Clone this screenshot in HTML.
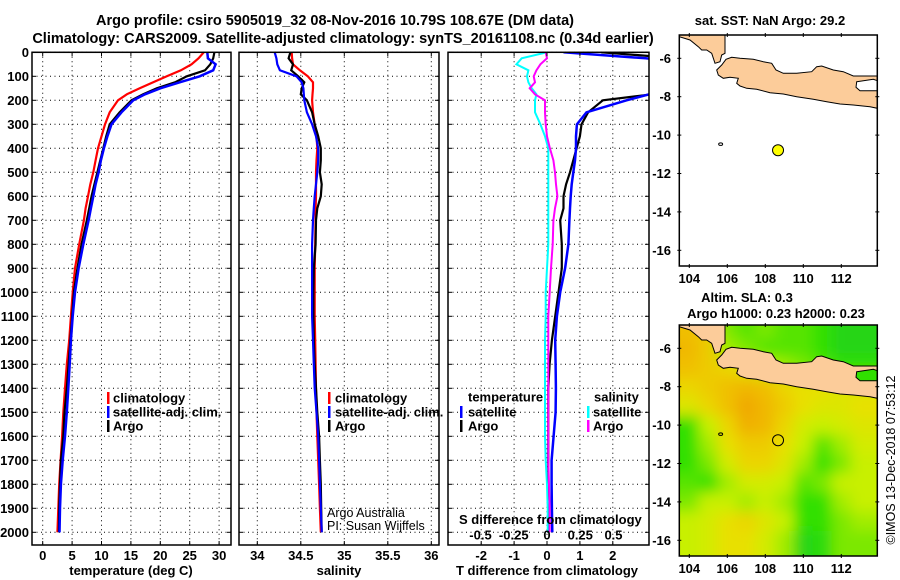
<!DOCTYPE html>
<html><head><meta charset="utf-8"><style>
html,body{margin:0;padding:0;background:#fff;}
svg{display:block;font-family:"Liberation Sans",Arial,sans-serif;}
.t{font-weight:bold;font-size:13px;fill:#000;}
.h{font-weight:bold;font-size:14.5px;fill:#000;}
.n{font-size:12.5px;fill:#000;}
</style></head><body>
<svg id="fig" width="900" height="580" viewBox="0 0 900 580">
<defs>
<clipPath id="c1"><rect x="32" y="52.3" width="199" height="492.7"/></clipPath>
<clipPath id="c2"><rect x="239" y="52.3" width="200" height="492.7"/></clipPath>
<clipPath id="c3"><rect x="448" y="52.3" width="201" height="492.7"/></clipPath>
<clipPath id="cm1"><rect x="679.3" y="35" width="198" height="231"/></clipPath>
<clipPath id="cm2"><rect x="679.3" y="325" width="198" height="231"/></clipPath>
<filter id="blur" x="-10%" y="-10%" width="120%" height="120%"><feGaussianBlur stdDeviation="7"/></filter>
</defs>
<text class="h" x="335" y="25" text-anchor="middle">Argo profile: csiro 5905019_32 08-Nov-2016 10.79S 108.67E (DM data)</text>
<text class="h" x="343" y="43" text-anchor="middle">Climatology: CARS2009. Satellite-adjusted climatology: synTS_20161108.nc (0.34d earlier)</text>
<g id="grid"></g>
<g id="series"></g>
<g id="maps"></g>
<rect x="32" y="52.3" width="199" height="492.7" fill="none" stroke="#000" stroke-width="1.5"/>
<rect x="239" y="52.3" width="200" height="492.7" fill="none" stroke="#000" stroke-width="1.5"/>
<rect x="448" y="52.3" width="201" height="492.7" fill="none" stroke="#000" stroke-width="1.5"/>
<g id="ticks"></g>
<text class="t" x="131" y="575" text-anchor="middle">temperature (deg C)</text>
<text class="t" x="339" y="575" text-anchor="middle">salinity</text>
<text class="t" x="547" y="575" text-anchor="middle">T difference from climatology</text>
<text class="t" x="459" y="524">S difference from climatology</text>
<g>
<rect x="107" y="392" width="2.5" height="12" fill="#f00"/><text class="t" x="113" y="402.5">climatology</text>
<rect x="107" y="406" width="2.5" height="12" fill="#00f"/><text class="t" x="113" y="416.5">satellite-adj. clim.</text>
<rect x="107" y="420" width="2.5" height="12" fill="#000"/><text class="t" x="113" y="430.5">Argo</text>
</g>
<g>
<rect x="328" y="392" width="2.5" height="12" fill="#f00"/><text class="t" x="335" y="402.5">climatology</text>
<rect x="328" y="406" width="2.5" height="12" fill="#00f"/><text class="t" x="335" y="416.5">satellite-adj. clim.</text>
<rect x="328" y="420" width="2.5" height="12" fill="#000"/><text class="t" x="335" y="430.5">Argo</text>
</g>
<text class="n" x="327" y="517">Argo Australia</text>
<text class="n" x="327" y="530">PI: Susan Wijffels</text>
<g>
<text class="t" x="468" y="401.5">temperature</text>
<rect x="460" y="406" width="2.5" height="12" fill="#00f"/><text class="t" x="468" y="416.5">satellite</text>
<rect x="460" y="420" width="2.5" height="12" fill="#000"/><text class="t" x="468" y="430.5">Argo</text>
<text class="t" x="594" y="401.5">salinity</text>
<rect x="587" y="406" width="2.5" height="12" fill="#0ff"/><text class="t" x="593" y="416.5">satellite</text>
<rect x="587" y="420" width="2.5" height="12" fill="#f0f"/><text class="t" x="593" y="430.5">Argo</text>
</g>
<text class="t" x="770" y="25" text-anchor="middle">sat. SST: NaN Argo: 29.2</text>
<text class="t" x="747" y="302" text-anchor="middle">Altim. SLA: 0.3</text>
<text class="t" x="776" y="318" text-anchor="middle">Argo h1000: 0.23 h2000: 0.23</text>
<text class="n" transform="translate(895,460) rotate(-90)" text-anchor="middle" font-size="13">©IMOS 13-Dec-2018 07:53:12</text>
</svg>
<script>
// ---- data ----
const depths = [0,25,50,75,100,125,150,175,200,250,300,350,400,450,500,550,600,650,700,800,900,1000,1100,1200,1300,1400,1500,1600,1700,1800,1900,2000];
const tempClim = [27.4,26.5,25.3,23.5,21.1,18.8,16.5,14.3,12.8,11.4,10.6,10.0,9.4,9.0,8.6,8.1,7.7,7.3,7.0,6.2,5.5,5.1,4.8,4.5,4.1,3.8,3.5,3.3,3.05,2.8,2.65,2.5];
const tempArgo = [29.2,29.0,28.5,27.6,24.5,22.5,19.4,17.1,15.1,13.1,11.4,10.8,10.3,9.8,9.3,8.8,8.3,7.9,7.5,6.6,5.9,5.3,5.0,4.7,4.4,4.1,3.7,3.5,3.1,2.95,2.8,2.75];
const tempSat = [28.0,28.1,29.4,29.0,26.7,23.3,20.0,17.4,15.4,13.4,11.7,11.0,10.4,9.9,9.5,9.0,8.6,8.2,7.8,6.9,6.1,5.5,5.1,4.8,4.6,4.35,4.1,3.8,3.4,3.1,2.95,2.85];
const salClim = [34.395,34.40,34.41,34.49,34.58,34.64,34.64,34.635,34.63,34.64,34.66,34.68,34.69,34.68,34.675,34.675,34.675,34.67,34.67,34.665,34.66,34.66,34.66,34.665,34.67,34.675,34.68,34.69,34.70,34.71,34.72,34.73];
const salArgo = [34.38,34.36,34.41,34.39,34.47,34.54,34.51,34.50,34.57,34.63,34.66,34.70,34.73,34.73,34.72,34.74,34.73,34.69,34.675,34.67,34.65,34.645,34.645,34.65,34.66,34.675,34.69,34.71,34.72,34.73,34.735,34.74];
const salSat = [34.20,34.22,34.23,34.26,34.45,34.51,34.53,34.535,34.54,34.57,34.63,34.675,34.70,34.70,34.69,34.675,34.66,34.65,34.64,34.63,34.63,34.63,34.63,34.64,34.65,34.66,34.68,34.70,34.71,34.72,34.73,34.74];
const dTSat = [0.5,3.0,5,5,5.6,5,3.5,3.1,2.42,1.2,0.91,0.88,0.88,0.85,0.8,0.75,0.72,0.7,0.68,0.65,0.55,0.4,0.3,0.25,0.26,0.27,0.26,0.2,0.14,0.14,0.15,0.16];
const dTArgo = [1.65,4,4,4,4,4,4,3.2,1.7,1.25,1.05,1.0,0.9,0.8,0.7,0.58,0.5,0.5,0.4,0.45,0.45,0.35,0.25,0.15,0.08,0.04,0.04,0.04,0.04,0.04,0.04,0.04];
const dSSat = [0,-0.19,-0.23,-0.14,-0.15,-0.14,-0.115,-0.08,-0.09,-0.09,-0.05,-0.015,0.01,0.01,0.01,0.01,0.01,0.01,0.01,0.01,0.0,-0.01,-0.01,-0.015,-0.015,-0.015,-0.015,-0.015,-0.01,0,0.005,0.005];
const dSArgo = [-0.01,0,-0.05,-0.08,-0.1,-0.09,-0.13,-0.09,-0.015,-0.015,-0.01,0,0.022,0.048,0.06,0.068,0.078,0.06,0.048,0.043,0.03,0.02,0.01,0.01,0.01,0.01,0.01,0.01,0.01,0.015,0.02,0.02];
const depthTicks = [0,100,200,300,400,500,600,700,800,900,1000,1100,1200,1300,1400,1500,1600,1700,1800,1900,2000];
const tempTicks = [0,5,10,15,20,25,30];
const salTicks = [34,34.5,35,35.5,36];
const salTickLabels = ['34','34.5','35','35.5','36'];
const dTTicks = [-2,-1,0,1,2];
const dSTicks = [-0.5,-0.25,0,0.25,0.5];
const dSTickLabels = ['-0.5','-0.25','0','0.25','0.5'];
const mapLatTicks = [-6,-8,-10,-12,-14,-16];
const mapLonTicks = [104,106,108,110,112];
const floatLon = [108.67];
const floatLat = [-10.79];
const slaLons = [104,105,106,107,108,109,110,111,112,113];
const slaLats = [-5,-6,-7,-8,-9,-10,-11,-12,-13,-14,-15,-16];
const slaRow0 = [0.8,0.75,0.4,0.35,0.4,0.35,0.35,0.3,0.2,0.2];
const slaRow1 = [0.85,0.75,0.45,0.4,0.35,0.35,0.35,0.3,0.2,0.2];
const slaRow2 = [0.8,0.75,0.7,0.6,0.5,0.45,0.4,0.35,0.3,0.3];
const slaRow3 = [0.7,0.75,0.8,0.85,0.8,0.7,0.65,0.65,0.6,0.6];
const slaRow4 = [0.6,0.7,0.8,0.95,0.85,0.75,0.65,0.6,0.6,0.65];
const slaRow5 = [0.3,0.5,0.7,0.9,0.85,0.7,0.55,0.5,0.55,0.6];
const slaRow6 = [0.3,0.45,0.65,0.75,0.75,0.65,0.5,0.35,0.45,0.55];
const slaRow7 = [0.3,0.4,0.55,0.7,0.7,0.6,0.45,0.3,0.4,0.5];
const slaRow8 = [0.35,0.3,0.45,0.55,0.55,0.5,0.35,0.4,0.5,0.5];
const slaRow9 = [0.4,0.5,0.5,0.45,0.5,0.45,0.3,0.3,0.45,0.5];
const slaRow10 = [0.5,0.55,0.65,0.7,0.6,0.5,0.3,0.3,0.4,0.45];
const slaRow11 = [0.5,0.55,0.65,0.65,0.55,0.45,0.2,0.25,0.4,0.4];
const slaGrid = [slaRow0,slaRow1,slaRow2,slaRow3,slaRow4,slaRow5,slaRow6,slaRow7,slaRow8,slaRow9,slaRow10,slaRow11];

// ---- axis functions ----
const yD = d => 52.3 + 0.24*d;
const xT = t => 42.7 + 5.88*t;
const xS = s => 257.3 + 87*(s-34);
const xDT = v => 547 + 32.9*v;
const xDS = v => 547 + 133*v;
const mapX = lon => 689.3 + (lon-104)*19;
const mapY1 = lat => 58.3 + (-6-lat)*19.2;
const mapY2 = lat => 348.3 + (-6-lat)*19.2;

const NS = 'http://www.w3.org/2000/svg';
function mk(tag, attrs, parent){
  const e = document.createElementNS(NS, tag);
  for (const k in attrs) e.setAttribute(k, attrs[k]);
  parent.appendChild(e);
  return e;
}
const grid = document.getElementById('grid');
const series = document.getElementById('series');
const ticks = document.getElementById('ticks');
const maps = document.getElementById('maps');

// gridlines
const panels = [[32,231,tempTicks.map(xT)],[239,439,salTicks.map(xS)],[448,649,dTTicks.map(xDT)]];
panels.forEach(p => {
  depthTicks.forEach(d => {
    const g = mk('line',{x1:p[0],x2:p[1],y1:yD(d),y2:yD(d),stroke:'#000','stroke-width':1,'stroke-dasharray':'1,3.5'},grid);
    
    
    const tl = mk('line',{x1:p[0],x2:p[0]+4,y1:yD(d),y2:yD(d),stroke:'#000','stroke-width':1},ticks);
    
    
    const tr = mk('line',{x1:p[1]-4,x2:p[1],y1:yD(d),y2:yD(d),stroke:'#000','stroke-width':1},ticks);
    
    
  });
  p[2].forEach(x => {
    const g = mk('line',{x1:x,x2:x,y1:52.3,y2:545,stroke:'#000','stroke-width':1,'stroke-dasharray':'1,3.5'},grid);
    
    
    const tb = mk('line',{x1:x,x2:x,y1:541,y2:545,stroke:'#000','stroke-width':1},ticks);
    
    
    const tt = mk('line',{x1:x,x2:x,y1:52.3,y2:56.3,stroke:'#000','stroke-width':1},ticks);
    
    
  });
});
depthTicks.forEach(d => {
  const t = mk('text',{x:29,y:yD(d)+4.5,'text-anchor':'end','class':'t'},ticks);
  t.textContent = d;
  
  
});
tempTicks.forEach(v => {
  const t = mk('text',{x:xT(v),y:560,'text-anchor':'middle','class':'t'},ticks);
  t.textContent = v;
  
  
});
salTicks.forEach((v,i) => {
  const t = mk('text',{x:xS(v),y:560,'text-anchor':'middle','class':'t'},ticks);
  t.textContent = salTickLabels[i];
  
  
});
dTTicks.forEach(v => {
  const t = mk('text',{x:xDT(v),y:560,'text-anchor':'middle','class':'t'},ticks);
  t.textContent = v;
  
  
});
dSTicks.forEach((v,i) => {
  const t = mk('text',{x:xDS(v),y:539.5,'text-anchor':'middle','class':'t'},ticks);
  t.textContent = dSTickLabels[i];
  
  
});

// series
function line(vals, fx, color, w, clip, name){
  const pts = vals.map((v,i) => fx(v).toFixed(1)+','+yD(depths[i]).toFixed(1)).join(' ');
  const pl = mk('polyline',{points:pts,fill:'none',stroke:color,'stroke-width':w,'clip-path':'url(#'+clip+')','stroke-linejoin':'miter'},series);
  
  
}
line(tempClim, xT, '#f00', 2.2, 'c1', 'temperature-climatology-line');
line(tempArgo, xT, '#000', 2.2, 'c1', 'temperature-argo-line');
line(tempSat, xT, '#00f', 2.5, 'c1', 'temperature-satellite-line');
line(salClim, xS, '#f00', 2.2, 'c2', 'salinity-climatology-line');
line(salArgo, xS, '#000', 2.2, 'c2', 'salinity-argo-line');
line(salSat, xS, '#00f', 2.2, 'c2', 'salinity-satellite-line');
line(dTArgo, xDT, '#000', 2.2, 'c3', 't-difference-argo-line');
line(dTSat, xDT, '#00f', 2.5, 'c3', 't-difference-satellite-line');
line(dSSat, xDS, '#0ff', 2, 'c3', 's-difference-satellite-line');
line(dSArgo, xDS, '#f0f', 2, 'c3', 's-difference-argo-line');

// maps
const stops = [[0,[24,192,64]],[0.3,[48,224,0]],[0.5,[200,240,0]],[0.65,[232,224,0]],[0.8,[240,192,0]],[1,[240,160,0]]];
function col(v){
  for (let i=1;i<stops.length;i++){
    if (v<=stops[i][0]){
      const a=stops[i-1], b=stops[i], f=(v-a[0])/(b[0]-a[0]);
      return 'rgb('+a[1].map((c,k)=>Math.round(c+(b[1][k]-c)*f)).join(',')+')';
    }
  }
  return 'rgb(240,160,0)';
}
const heat = mk('g',{'clip-path':'url(#cm2)'},maps);


const heatInner = mk('g',{filter:'url(#blur)'},heat);


slaLats.forEach((lat,r) => {
  slaLons.forEach((lon,c) => {
    const x0 = mapX(lon-0.5), y0 = mapY2(lat+0.5);
    const w = 19, h = 19.2;
    const cell = mk('rect',{x:c===0?x0-30:x0,y:r===0?y0-30:y0,width:w+(c===0||c===slaLons.length-1?30:0)+0.5,height:h+(r===0||r===slaLats.length-1?40:0)+0.5,fill:col(slaGrid[r][c])},heatInner);
    
    
  });
});
// land polygons in zoom units (x=640+zx/3, y=off+zy/3)
const sumatra = [[118,105],[255,105],[255,160],[245,165],[240,185],[225,190],[215,160],[200,150],[185,150],[175,140],[150,120],[118,110]];
const java = [[230,210],[245,195],[258,178],[275,172],[300,175],[340,178],[370,185],[395,190],[408,210],[430,220],[470,220],[515,215],[530,200],[545,198],[580,210],[610,215],[640,228],[712,228],[712,325],[690,320],[640,315],[600,312],[560,305],[520,298],[470,290],[430,282],[390,278],[350,268],[320,265],[300,258],[290,250],[295,235],[270,232],[250,235],[235,225]];
const strait = [[650,245],[700,238],[712,242],[712,272],[660,272],[648,262]];
function drawMap(yoff, clip, name, seaColor){
  const pts = a => a.map(p => (640+p[0]/3).toFixed(1)+','+(yoff+p[1]/3).toFixed(1)).join(' ');
  const g = mk('g',{'clip-path':'url(#'+clip+')'},maps);
  
  
  [sumatra, java].forEach(a => {
    const p = mk('polygon',{points:pts(a),fill:'#fccc9a',stroke:'#000','stroke-width':1},g);
    
    
  });
  const s = mk('polygon',{points:pts(strait),fill:seaColor,stroke:'#000','stroke-width':1},g);
  
  
  const isl = mk('ellipse',{cx:mapX(105.65),cy:yoff===0?mapY1(-10.47):mapY2(-10.47),rx:2,ry:1.3,fill:'none',stroke:'#000','stroke-width':1},g);
  
  
}
drawMap(0,'cm1','sst-map-land','#fff');
drawMap(290,'cm2','sla-map-land','#30e000');
[[35,mapY1,'sst-map'],[325,mapY2,'sla-map']].forEach(m => {
  const fr = mk('rect',{x:679.3,y:m[0],width:198,height:231,fill:'none',stroke:'#000','stroke-width':1.5},maps);
  
  
  mapLatTicks.forEach(lat => {
    const y = m[1](lat);
    const t = mk('text',{x:671,y:y+4.5,'text-anchor':'end','class':'t'},maps);
    t.textContent = lat;
    
    
    const tk = mk('line',{x1:677.3,x2:681.3,y1:y,y2:y,stroke:'#000'},maps);
    
    
    const tk2 = mk('line',{x1:875.3,x2:879.3,y1:y,y2:y,stroke:'#000'},maps);
    
    
  });
  mapLonTicks.forEach(lon => {
    const x = mapX(lon);
    const t = mk('text',{x:x,y:m[0]+231+17,'text-anchor':'middle','class':'t'},maps);
    t.textContent = lon;
    
    
    const tk = mk('line',{x1:x,x2:x,y1:m[0]-2,y2:m[0]+2,stroke:'#000'},maps);
    
    
    const tk2 = mk('line',{x1:x,x2:x,y1:m[0]+229,y2:m[0]+233,stroke:'#000'},maps);
    
    
  });
  const f = mk('circle',{cx:mapX(floatLon[0]),cy:m[1](floatLat[0]),r:5.5,fill:m[0]===35?'#ffff00':'none',stroke:'#000','stroke-width':1},maps);
  
  
});
</script>
</body></html>
